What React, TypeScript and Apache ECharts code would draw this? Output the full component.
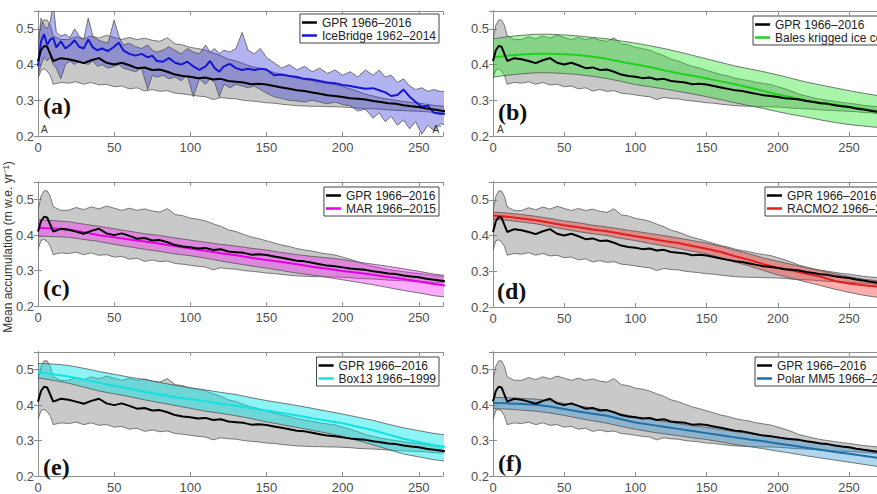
import React, { useEffect, useRef } from 'react';
import * as echarts from 'echarts';

// ---------- GPR 1966–2016 (common to all panels) ----------
const gprKm = [0,2,4,6,8,10,15,20,25,30,35,40,45,50,55,60,65,70,75,80,85,90,95,100,105,110,115,120,125,130,135,140,145,150,155,160,165,170,175,180,185,190,195,200,205,210,215,220,225,230,235,240,245,250,255,260,265,270,275];
const gprMean = [0.41,0.44,0.452,0.45,0.43,0.41,0.418,0.415,0.41,0.404, 0.412,0.418,0.405,0.4,0.405,0.398,0.39,0.392,0.385,0.386, 0.38,0.372,0.368,0.366,0.362,0.364,0.358,0.36,0.354,0.352, 0.35,0.345,0.346,0.344,0.34,0.336,0.332,0.328,0.326,0.322, 0.318,0.314,0.312,0.309,0.306,0.304,0.302,0.298,0.295,0.292, 0.29,0.286,0.283,0.281,0.277,0.274,0.271,0.268,0.266];
const gprLow = [0.36,0.385,0.388,0.382,0.37,0.345,0.35,0.348,0.352,0.345, 0.35,0.343,0.345,0.338,0.34,0.332,0.335,0.326,0.33,0.325, 0.327,0.32,0.318,0.315,0.312,0.31,0.302,0.308,0.305,0.304, 0.3,0.298,0.296,0.293,0.292,0.289,0.287,0.285,0.284,0.283, 0.283,0.282,0.282,0.281,0.28,0.278,0.277,0.276,0.275,0.273, 0.272,0.271,0.27,0.269,0.268,0.266,0.265,0.263,0.261];
const gprHigh = [0.47,0.51,0.525,0.525,0.51,0.48,0.47,0.47,0.478,0.472, 0.48,0.474,0.482,0.476,0.47,0.476,0.47,0.474,0.468,0.465, 0.475,0.458,0.455,0.448,0.445,0.44,0.432,0.425,0.415,0.41, 0.402,0.395,0.39,0.384,0.378,0.372,0.368,0.362,0.358,0.355, 0.35,0.347,0.344,0.338,0.332,0.325,0.317,0.312,0.307,0.303, 0.3,0.297,0.294,0.292,0.289,0.286,0.284,0.282,0.28];

// ---------- (a) IceBridge 1962–2014 ----------
const iceKm = [0,2,4,6,8,10,12, 15,18,21,24,27,30,33,36,39,42, 46,50,53,56,60,64,68,72,75,78, 82,86,90,94,98,102,106,110,113,116, 119,122,126,130,134,138,142,146,150, 155,160,165,170,175,180,185,190,195,200,205,210,215,220, 224,228,232,236,240,244,248,252,256,260,264,268];
const iceMean = [0.395,0.465,0.485,0.455,0.47,0.475,0.448, 0.465,0.445,0.455,0.468,0.45,0.445,0.47,0.448,0.44,0.445, 0.438,0.45,0.462,0.44,0.43,0.425,0.43,0.42,0.425,0.41, 0.408,0.418,0.405,0.4,0.408,0.395,0.385,0.395,0.41,0.39, 0.38,0.395,0.402,0.39,0.385,0.388,0.385,0.388,0.386, 0.37,0.372,0.368,0.365,0.36,0.358,0.354,0.35,0.348,0.343,0.34,0.336,0.332,0.334, 0.328,0.322,0.312,0.315,0.33,0.31,0.295,0.282,0.285,0.265,0.262,0.262];
const iceHigh = [0.45,0.53,0.51,0.5,0.52,0.57,0.49, 0.48,0.485,0.475,0.5,0.48,0.47,0.53,0.48,0.47,0.465, 0.46,0.525,0.48,0.455,0.46,0.45,0.445,0.455,0.44,0.435, 0.44,0.45,0.44,0.43,0.445,0.435,0.43,0.455,0.435,0.445, 0.43,0.44,0.435,0.445,0.49,0.44,0.43,0.445,0.42, 0.405,0.39,0.4,0.385,0.395,0.38,0.39,0.375,0.385,0.37,0.38,0.365,0.385,0.37, 0.385,0.365,0.37,0.35,0.36,0.34,0.33,0.335,0.325,0.33,0.325,0.325];
const iceLow = [0.37,0.4,0.42,0.41,0.42,0.4,0.39, 0.36,0.4,0.41,0.4,0.41,0.405,0.4,0.41,0.395,0.4, 0.39,0.395,0.4,0.39,0.385,0.38,0.39,0.33,0.37,0.365, 0.37,0.36,0.365,0.355,0.37,0.31,0.36,0.345,0.36,0.35, 0.31,0.345,0.335,0.345,0.34,0.335,0.34,0.33,0.32, 0.31,0.305,0.3,0.298,0.295,0.3,0.295,0.29,0.295,0.288,0.285,0.27,0.275,0.25, 0.265,0.24,0.255,0.23,0.245,0.22,0.24,0.205,0.23,0.215,0.235,0.23];

// ---------- (b) Bales krigged ice cores ----------
const balesKm = [0,10,20,30,40,50,60,70,80,90,100,110,120,130,140,150,160,170,180,190,200,210,220,230,240,250,260,270,280];
const balesMean = [0.42,0.425,0.428,0.43,0.43,0.429,0.427,0.422,0.416,0.408,0.4,0.393,0.384,0.376,0.369,0.361,0.353,0.345,0.336,0.326,0.316,0.308,0.3,0.294,0.288,0.282,0.276,0.27,0.265];
const balesHigh = [0.472,0.478,0.482,0.485,0.485,0.483,0.48,0.476,0.472,0.466,0.46,0.453,0.445,0.436,0.426,0.416,0.406,0.396,0.388,0.38,0.371,0.361,0.351,0.343,0.335,0.327,0.32,0.313,0.308];
const balesLow = [0.365,0.37,0.374,0.377,0.377,0.375,0.372,0.367,0.361,0.353,0.344,0.338,0.332,0.325,0.318,0.31,0.302,0.293,0.285,0.277,0.268,0.26,0.253,0.245,0.238,0.232,0.228,0.224,0.22];

// ---------- (c) MAR 1966–2015 ----------
const marKm = [0,10,20,30,40,50,60,70,80,90,100,110,120,130,140,150,160,170,180,190,200,210,220,230,240,250,260,270];
const marMean = [0.42,0.419,0.416,0.408,0.4,0.394,0.388,0.382,0.376,0.369,0.362,0.356,0.349,0.343,0.336,0.33,0.324,0.318,0.311,0.305,0.299,0.294,0.288,0.282,0.276,0.269,0.262,0.256];
const marHigh = [0.443,0.441,0.438,0.431,0.425,0.418,0.411,0.404,0.399,0.392,0.386,0.38,0.374,0.369,0.363,0.358,0.351,0.345,0.34,0.336,0.331,0.324,0.318,0.312,0.305,0.298,0.29,0.285];
const marLow = [0.397,0.396,0.394,0.388,0.382,0.374,0.367,0.36,0.354,0.347,0.342,0.335,0.327,0.32,0.313,0.307,0.3,0.293,0.287,0.281,0.274,0.267,0.26,0.252,0.244,0.237,0.229,0.224];

// ---------- (d) RACMO2 1966–2015 ----------
const racmoKm = [0,10,20,30,40,50,60,70,80,90,100,110,120,130,140,150,160,170,180,190,200,210,220,230,240,250,260,270,280];
const racmoMean = [0.456,0.453,0.448,0.443,0.436,0.429,0.423,0.417,0.412,0.405,0.398,0.392,0.385,0.379,0.371,0.363,0.354,0.342,0.332,0.32,0.31,0.302,0.293,0.285,0.273,0.266,0.261,0.257,0.253];
const racmoHigh = [0.466,0.463,0.459,0.454,0.448,0.441,0.436,0.429,0.424,0.418,0.412,0.406,0.4,0.393,0.386,0.379,0.37,0.359,0.349,0.337,0.328,0.319,0.31,0.302,0.293,0.285,0.278,0.273,0.268];
const racmoLow = [0.446,0.443,0.438,0.433,0.425,0.418,0.411,0.405,0.4,0.392,0.386,0.378,0.371,0.364,0.356,0.349,0.338,0.326,0.315,0.302,0.29,0.28,0.27,0.26,0.25,0.241,0.233,0.227,0.222];

// ---------- (e) Box13 1966–1999 ----------
const boxKm = [0,10,20,30,40,50,60,70,80,90,100,110,120,130,140,150,160,170,180,190,200,210,220,230,240,250,260,270];
const boxMean = [0.493,0.487,0.481,0.472,0.463,0.455,0.447,0.438,0.43,0.422,0.417,0.411,0.404,0.398,0.391,0.385,0.378,0.371,0.363,0.356,0.349,0.339,0.329,0.317,0.305,0.296,0.287,0.281];
const boxHigh = [0.518,0.516,0.512,0.504,0.495,0.487,0.479,0.472,0.464,0.456,0.449,0.443,0.436,0.43,0.421,0.413,0.406,0.399,0.391,0.383,0.375,0.366,0.357,0.346,0.336,0.328,0.32,0.315];
const boxLow = [0.477,0.47,0.462,0.451,0.44,0.432,0.424,0.415,0.407,0.399,0.391,0.383,0.377,0.37,0.362,0.353,0.345,0.337,0.329,0.321,0.312,0.3,0.288,0.275,0.262,0.254,0.246,0.241];

// ---------- (f) Polar MM5 1966–2012 ----------
const mm5Km = [0,10,20,30,40,50,60,70,80,90,100,110,120,130,140,150,160,170,180,190,200,210,220,230,240,250,260,270,280];
const mm5Mean = [0.406,0.405,0.403,0.401,0.396,0.389,0.382,0.376,0.37,0.36,0.351,0.345,0.339,0.333,0.327,0.321,0.315,0.309,0.303,0.298,0.292,0.286,0.28,0.274,0.268,0.263,0.257,0.251,0.246];
const mm5High = [0.422,0.421,0.419,0.417,0.412,0.405,0.398,0.392,0.385,0.375,0.367,0.36,0.354,0.348,0.342,0.337,0.331,0.325,0.32,0.315,0.31,0.304,0.298,0.292,0.286,0.28,0.275,0.27,0.265];
const mm5Low = [0.39,0.389,0.386,0.383,0.378,0.371,0.363,0.356,0.349,0.34,0.332,0.325,0.319,0.314,0.308,0.303,0.296,0.289,0.283,0.277,0.27,0.264,0.257,0.251,0.245,0.239,0.233,0.227,0.222];

// ---------- labels ----------
const gprName = 'GPR 1966–2016';
const panelLabels = ['(a)', '(b)', '(c)', '(d)', '(e)', '(f)'];
const otherNames = ['IceBridge 1962–2014', 'Bales krigged ice cores', 'MAR 1966–2015', 'RACMO2 1966–2015', 'Box13 1966–1999', 'Polar MM5 1966–2012'];
const xTicks = [0, 50, 100, 150, 200, 250];
const yTicks = [0.2, 0.3, 0.4, 0.5];
const yLabel = 'Mean accumulation (m w.e. yr⁻¹)';

const SANS = '"Liberation Sans", Arial, Helvetica, sans-serif';
const CHART_W = 920; // drawing surface; the visible window is 877 px wide

const others = [
  { km: iceKm, mean: iceMean, lo: iceLow, hi: iceHigh, line: '#1616d2', fill: 'rgba(45,45,220,0.36)' },
  { km: balesKm, mean: balesMean, lo: balesLow, hi: balesHigh, line: '#1fd21f', fill: 'rgba(30,230,30,0.38)' },
  { km: marKm, mean: marMean, lo: marLow, hi: marHigh, line: '#e400e4', fill: 'rgba(255,20,255,0.36)' },
  { km: racmoKm, mean: racmoMean, lo: racmoLow, hi: racmoHigh, line: '#e41e1e', fill: 'rgba(255,40,40,0.38)' },
  { km: boxKm, mean: boxMean, lo: boxLow, hi: boxHigh, line: '#12e2e2', fill: 'rgba(0,230,230,0.45)' },
  { km: mm5Km, mean: mm5Mean, lo: mm5Low, hi: mm5High, line: '#1e70a6', fill: 'rgba(40,140,210,0.36)' },
];

function pairs(km: number[], v: number[]) {
  const n = Math.min(km.length, v.length);
  const out: number[][] = [];
  for (let i = 0; i < n; i++) out.push([km[i], v[i]]);
  return out;
}
function rows(km: number[], lo: number[], hi: number[]) {
  const n = Math.min(km.length, lo.length, hi.length);
  const out: number[][] = [];
  for (let i = 0; i < n; i++) out.push([km[i], lo[i], hi[i]]);
  return out;
}

function bandSeries(p: number, name: string, data: number[][], fill: string, stroke: string) {
  return {
    type: 'custom', name, xAxisIndex: 2 * p, yAxisIndex: 2 * p, silent: true, clip: true,
    encode: { x: 0, y: [1, 2] },
    data,
    renderItem: (params: any, api: any) => {
      if (params.dataIndexInside !== 0) return null;
      const n = params.dataInsideLength;
      const upper: number[][] = [];
      const lower: number[][] = [];
      for (let i = 0; i < n; i++) {
        const x = api.value(0, i);
        upper.push(api.coord([x, api.value(2, i)]));
        lower.push(api.coord([x, api.value(1, i)]));
      }
      lower.reverse();
      return {
        type: 'polygon',
        shape: { points: upper.concat(lower) },
        style: { fill, stroke, lineWidth: 0.8 },
      };
    },
  };
}

function buildOption() {
  const colLeft = [38, 493];
  const colXMax = [266, 280];
  const colPx = [1.523, 1.424];
  const rowTop = [[11, 11], [182, 182], [352, 352]];
  const rowBottom = [[136, 136], [306, 307], [480, 479]];
  const legendPos: any[] = [
    { right: CHART_W - 439, top: 14 },
    { left: 753, top: 16 },
    { right: CHART_W - 439, top: 187 },
    { left: 765, top: 187 },
    { right: CHART_W - 439, top: 357 },
    { left: 755, top: 357 },
  ];
  const labelPos = [
    [43, 106], [498, 112], [43, 288], [497, 291], [43, 467], [498, 463],
  ];

  const grids: any[] = [];
  const xAxes: any[] = [];
  const yAxes: any[] = [];
  const series: any[] = [];
  const legends: any[] = [];
  const graphics: any[] = [];
  const axisColor = '#8e8e8e';

  for (let p = 0; p < 6; p++) {
    const col = p % 2;
    const row = Math.floor(p / 2);
    const top = rowTop[row][col];
    const bottom = rowBottom[row][col];
    const xmax = colXMax[col];
    grids.push({ left: colLeft[col], top, width: xmax * colPx[col], height: bottom - top, containLabel: false });

    const common = {
      type: 'value', gridIndex: p, min: 0, max: xmax, interval: 50,
      axisLine: { show: true, lineStyle: { color: axisColor, width: 1 } },
      axisTick: { show: true, inside: true, length: 4, lineStyle: { color: axisColor } },
      splitLine: { show: false },
    };
    xAxes.push({
      ...common, position: 'bottom',
      axisLabel: {
        color: '#4f4f4f', fontSize: 13, fontFamily: SANS, margin: 5,
        formatter: (v: number) => (xTicks.indexOf(v) >= 0 ? String(v) : ''),
      },
    });
    xAxes.push({ ...common, position: 'top', axisLabel: { show: false } });
    const ycommon = {
      type: 'value', gridIndex: p, min: 0.2, max: 0.55, interval: 0.1,
      axisLine: { show: true, lineStyle: { color: axisColor, width: 1 } },
      axisTick: { show: true, inside: true, length: 4, lineStyle: { color: axisColor } },
      splitLine: { show: false },
    };
    yAxes.push({
      ...ycommon, position: 'left',
      axisLabel: {
        color: '#4f4f4f', fontSize: 13, fontFamily: SANS, margin: 4,
        formatter: (v: number) => {
          const hit = yTicks.find((t) => Math.abs(t - v) < 1e-6);
          return hit !== undefined ? hit.toFixed(1) : '';
        },
      },
    });
    yAxes.push({ ...ycommon, position: 'right', axisLabel: { show: false } });

    const o = others[p];
    const base = { type: 'line', xAxisIndex: 2 * p, yAxisIndex: 2 * p, symbol: 'none', showSymbol: false, silent: true };

    series.push(bandSeries(p, `gprBand${p}`, rows(gprKm, gprLow, gprHigh), 'rgba(120,120,120,0.4)', '#5c5c5c'));
    series.push(bandSeries(p, `otherBand${p}`, rows(o.km, o.lo, o.hi), o.fill, '#555555'));
    series.push({ ...base, name: otherNames[p], color: o.line, itemStyle: { color: o.line }, data: pairs(o.km, o.mean), lineStyle: { color: o.line, width: 2 } });
    series.push({ ...base, name: gprName, color: '#000', itemStyle: { color: '#000' }, data: pairs(gprKm, gprMean), lineStyle: { color: '#000', width: 2 } });

    legends.push({
      ...legendPos[p],
      data: [gprName, otherNames[p]],
      orient: 'vertical',
      selectedMode: false,
      backgroundColor: '#fff',
      borderColor: '#444',
      borderWidth: 1,
      borderRadius: 0,
      padding: [2, 3, 1, 2],
      itemGap: 0,
      itemWidth: 15,
      itemHeight: 2.5,
      icon: 'rect',
      textStyle: { fontSize: 12, color: '#222', fontFamily: SANS, lineHeight: 13 },
    });

    graphics.push({
      type: 'text', x: labelPos[p][0], y: labelPos[p][1], z: 100,
      style: { text: panelLabels[p], font: 'bold 24px "Liberation Serif", "Times New Roman", serif', fill: '#111', textAlign: 'left', textVerticalAlign: 'middle' },
    });
  }

  graphics.push({ type: 'text', x: 41, y: 129, z: 100, style: { text: 'A', font: `10px ${SANS}`, fill: '#333', textAlign: 'left', textVerticalAlign: 'middle' } });
  graphics.push({ type: 'text', x: 441, y: 129, z: 100, style: { text: "A'", font: `10px ${SANS}`, fill: '#333', textAlign: 'right', textVerticalAlign: 'middle' } });
  graphics.push({ type: 'text', x: 497, y: 129, z: 100, style: { text: 'A', font: `10px ${SANS}`, fill: '#333', textAlign: 'left', textVerticalAlign: 'middle' } });
  graphics.push({
    type: 'text', x: 8, y: 247, rotation: Math.PI / 2, z: 100,
    style: { text: yLabel, font: `12px ${SANS}`, fill: '#333', textAlign: 'center', textVerticalAlign: 'middle' },
  });

  return {
    animation: false,
    backgroundColor: '#fff',
    grid: grids,
    xAxis: xAxes,
    yAxis: yAxes,
    legend: legends,
    series,
    graphic: graphics,
  };
}

export default function App() {
  const ref = useRef<HTMLDivElement>(null);
  useEffect(() => {
    if (!ref.current) return;
    const chart = echarts.init(ref.current, null, { renderer: 'svg' });
    chart.setOption(buildOption() as any);
    return () => chart.dispose();
  }, []);
  return (
    <div style={{ position: 'absolute', left: 0, top: 0, width: 877, height: 494, overflow: 'hidden', background: '#fff' }}>
      <div ref={ref} style={{ width: CHART_W, height: 494 }} />
    </div>
  );
}
